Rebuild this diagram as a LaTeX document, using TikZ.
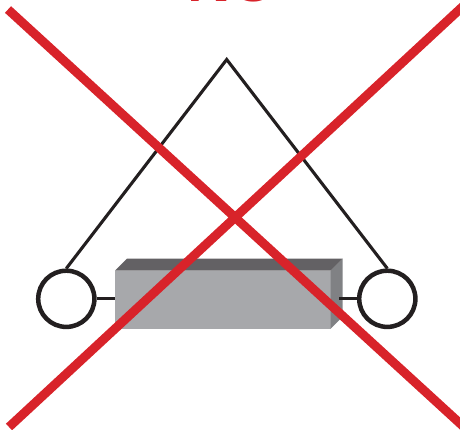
\documentclass[tikz,border=0pt]{standalone}
\usepackage{fontspec}
\setmainfont{Liberation Sans}
\definecolor{crossred}{RGB}{216,35,42}
\definecolor{ink}{RGB}{35,31,32}
\definecolor{boxfront}{RGB}{167,168,171}
\definecolor{boxtop}{RGB}{99,97,100}
\definecolor{boxside}{RGB}{128,129,132}
\tikzset{
  wheel/.style={circle,draw=ink,line width=4.5pt,minimum size=56.2pt,inner sep=0pt,fill=white},
  wire/.style={draw=ink,line width=3.1pt},
  cross/.style={draw=crossred,line width=9pt},
}
\begin{document}
\begin{tikzpicture}[x=1pt,y=-1pt]
\useasboundingbox (0,0) rectangle (460,429);
\clip (0,0) rectangle (460,429);
\node[font=\bfseries\fontsize{60}{60}\selectfont,text=crossred,anchor=base west,inner sep=0pt] (no) at (187,1.6) {NO};
\coordinate (apex) at (226.7,59.5);
\node[wheel] (lw) at (66.3,298.8) {};
\node[wheel] (rw) at (387.3,298.8) {};
\draw[wire,line join=miter] (lw.north) -- (apex) -- (rw.north);
% box
\node[draw=none,fill=boxfront,minimum width=215.7pt,minimum height=58pt,inner sep=0pt,outer sep=0pt] (box) at (222.85,299.7) {};
\fill[boxtop] (box.north west) -- ++(12,-12) -- ++(215.7,0) -- (box.north east) -- cycle;
\fill[boxside] (box.north east) -- ++(12,-12) -- ++(0,58) -- (box.south east) -- cycle;
\coordinate (rstub) at (338.7,298.8);
\draw[wire] (lw.east) -- (box.west |- lw.east);
\draw[wire] (rw.west) -- (rstub);
\coordinate (a1) at (8,9.5);
\coordinate (a2) at (465,428);
\coordinate (b1) at (465,4.4);
\coordinate (b2) at (9,427);
\draw[cross] (a1) -- (a2);
\draw[cross] (b1) -- (b2);
\end{tikzpicture}
\end{document}
